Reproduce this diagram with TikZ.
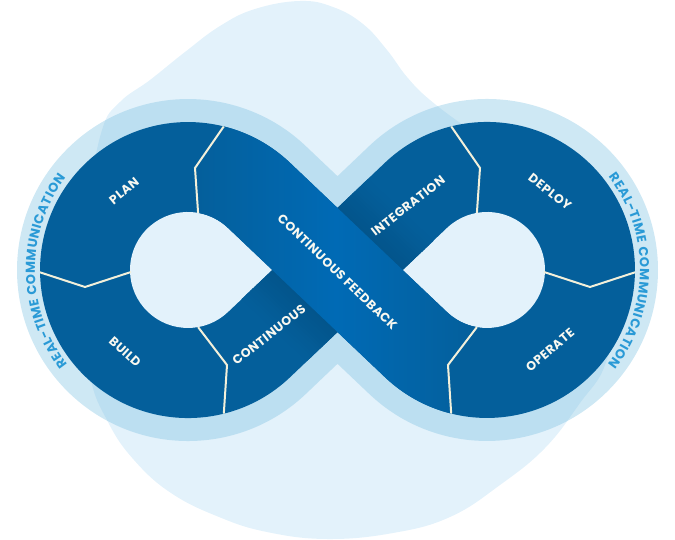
\documentclass[tikz,border=0pt]{standalone}
\usepackage{fontspec}
\setmainfont{Poppins}
\newfontfamily\labfont[LetterSpace=4]{Poppins}
\newfontfamily\rtcfont{Poppins}
\usetikzlibrary{calc,decorations.text}
\definecolor{blob}{HTML}{E3F2FB}
\definecolor{halo}{RGB}{120,190,224}
\definecolor{dk}{HTML}{045F9B}
\definecolor{fbmid}{HTML}{006AB5}
\definecolor{shd}{HTML}{03558C}
\definecolor{divc}{HTML}{F3F0DA}
\definecolor{labc}{HTML}{F8F8F0}
\definecolor{rtc}{HTML}{2A9AD6}
\begin{document}
\begin{tikzpicture}[x=1pt,y=-1pt,
  lab/.style={text=labc, font=\labfont\bfseries\fontsize{12.5}{13}\selectfont, inner sep=0pt},
  divline/.style={draw=divc, line width=2pt, line join=miter},
  rtcpath/.style={decorate, decoration={text along path, text align=fit to path, text color=rtc,
      text={|\rtcfont\bfseries\fontsize{13}{13}\selectfont|REAL-TIME COMMUNICATION}}}]
\useasboundingbox (0,0) rectangle (675,540);
\coordinate (CL) at (188,270);
\coordinate (CR) at (487,270);
% background blob
\fill[blob] plot[smooth cycle, tension=0.7] coordinates {
  (300,1) (333,7) (363,24) (387,50) (407,77) (430,100) (470,130) (535,175)
  (590,245) (614,310) (605,365) (580,403) (545,448) (500,485) (450,517)
  (393,533) (327,539) (267,532) (219,517) (171,493) (134,460) (108,422)
  (90,375) (85,300) (90,200) (102,130)
  (120,102) (150,80) (185,52) (220,26) (255,9)};
% halo
\fill[halo, fill opacity=0.36] (305.7,146.0) arc[start angle=-46.5, end angle=-313.5, radius=171]
  -- (337.5,363.8) -- (369.3,394.0) arc[start angle=133.5, end angle=-133.5, radius=171]
  -- (337.5,176.2) -- cycle;
% dark figure eight
\fill[dk] (289.9,162.7) arc[start angle=-46.5, end angle=-313.5, radius=148]
  -- (337.5,332.1) -- (385.1,377.3) arc[start angle=133.5, end angle=-133.5, radius=148]
  -- (337.5,207.9) -- cycle;
% holes
\fill[blob] (272.3,270) -- (227.9,227.9) arc[start angle=-46.5, end angle=-313.5, radius=58] -- cycle;
\fill[blob] (402.7,270) -- (447.1,227.9) arc[start angle=-133.5, end angle=133.5, radius=58] -- cycle;
% shadow on the continuous integration band
\begin{scope}
\clip (198.1,327.1) arc[start angle=80, end angle=46.5, radius=58] -- (385.1,162.7)
  arc[start angle=-133.5, end angle=-104, radius=148] -- (480,168) -- (476.9,212.9)
  arc[start angle=-100, end angle=-133.5, radius=58] -- (289.9,377.3)
  arc[start angle=46.5, end angle=76, radius=148] -- (227,365) -- cycle;
\begin{scope}[shift={(337.5,270)}, rotate=-43.5]
\foreach \i in {0,...,13} {
  \pgfmathsetmacro\p{100-\i*100/14}
  \fill[shd!\p!dk] (-260,44.5+3*\i) rectangle (260,48.2+3*\i);
  \fill[shd!\p!dk] (-260,-44.5-3*\i) rectangle (260,-48.2-3*\i);
}
\end{scope}
\end{scope}
% continuous feedback band
\shade[left color=dk, right color=dk, middle color=fbmid]
  (198.1,212.9) arc[start angle=-80, end angle=-46.5, radius=58] -- (385.1,377.3)
  arc[start angle=133.5, end angle=104, radius=148] -- (448,365) -- (476.9,327.1)
  arc[start angle=100, end angle=133.5, radius=58] -- (289.9,162.7)
  arc[start angle=-46.5, end angle=-76, radius=148] -- (195,168) -- cycle;
% dividers
\begin{scope}
\clip (289.9,162.7) arc[start angle=-46.5, end angle=-313.5, radius=148]
  -- (337.5,332.1) -- (385.1,377.3) arc[start angle=133.5, end angle=-133.5, radius=148]
  -- (337.5,207.9) -- cycle;
\draw[divline] (223.8,126.4) -- (195,168) -- (198.1,212.9);
\draw[divline] (39,272) -- (85,287) -- (131,272);
\draw[divline] (198.1,327.1) -- (227,365) -- (223.8,413.6);
\draw[divline] (451.2,126.4) -- (480,168) -- (476.9,212.9);
\draw[divline] (544,272) -- (590,287) -- (636,272);
\draw[divline] (476.9,327.1) -- (448,365) -- (451.2,413.6);
\end{scope}
% labels
\node[lab, rotate=39] (plan) at (124,191) {PLAN};
\node[lab, rotate=-42] (build) at (125,352) {BUILD};
\node[lab, rotate=38] (cont) at (269,335) {CONTINUOUS};
\node[lab, rotate=-44] (feed) at (337.5,272) {CONTINUOUS FEEDBACK};
\node[lab, rotate=38] (integ) at (408,206) {INTEGRATION};
\node[lab, rotate=-38] (deploy) at (550,192) {DEPLOY};
\node[lab, rotate=40] (operate) at (550,350) {OPERATE};
% real-time communication
\path[rtcpath] ($(CL)+(142:153)$) arc[start angle=142, end angle=217, radius=153];
\path[rtcpath] ($(CR)+(-37.5:153)$) arc[start angle=-37.5, end angle=38, radius=153];
\end{tikzpicture}
\end{document}
